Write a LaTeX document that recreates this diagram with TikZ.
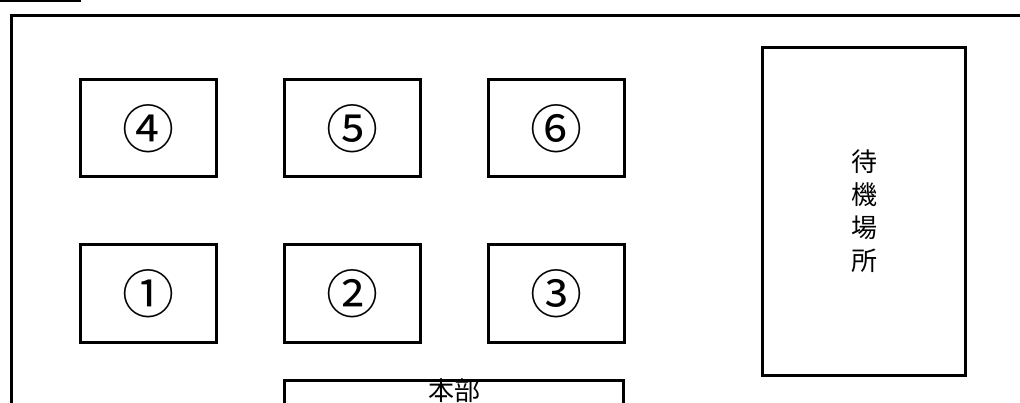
\documentclass[tikz,border=0pt]{standalone}
\usepackage{fontspec}
\newfontfamily\jp{Noto Sans CJK JP}

\begin{document}
\begin{tikzpicture}[x=1pt,y=1pt]
    \tikzstyle{every node}+=[inner sep=0pt]
    \tikzstyle{booth}=[draw=black, line width=3pt, minimum width=136pt, minimum height=97pt, font=\jp\fontsize{52}{52}\selectfont]
    \tikzstyle{wall}=[draw=black, line width=3pt]
    \useasboundingbox (0,0) rectangle (1020,-403);
    \draw [black, line width=1.2pt] (0,-1) -- (81,-1);
    \draw [wall] (11.5,-403) -- (11.5,-15.5) -- (1020,-15.5);
    \node [booth] (b4) at (148,-128.5) {④};
    \node [booth] (b5) at (352,-128.5) {⑤};
    \node [booth] (b6) at (556,-128.5) {⑥};
    \node [booth] (b1) at (148,-293.5) {①};
    \node [booth] (b2) at (352,-293.5) {②};
    \node [booth] (b3) at (556,-293.5) {③};
    \node [booth, minimum width=203pt, minimum height=328pt, align=center, font=\jp\fontsize{26}{33}\selectfont] (wait) at (864,-211.5) {待\\機\\場\\所};
    \node [booth, anchor=north, minimum width=339pt, minimum height=0pt, text height=19.5pt, text depth=40pt, inner ysep=1pt, font=\jp\fontsize{26}{26}\selectfont] (hq) at (454,-378.5) {本部};
\end{tikzpicture}
\end{document}
